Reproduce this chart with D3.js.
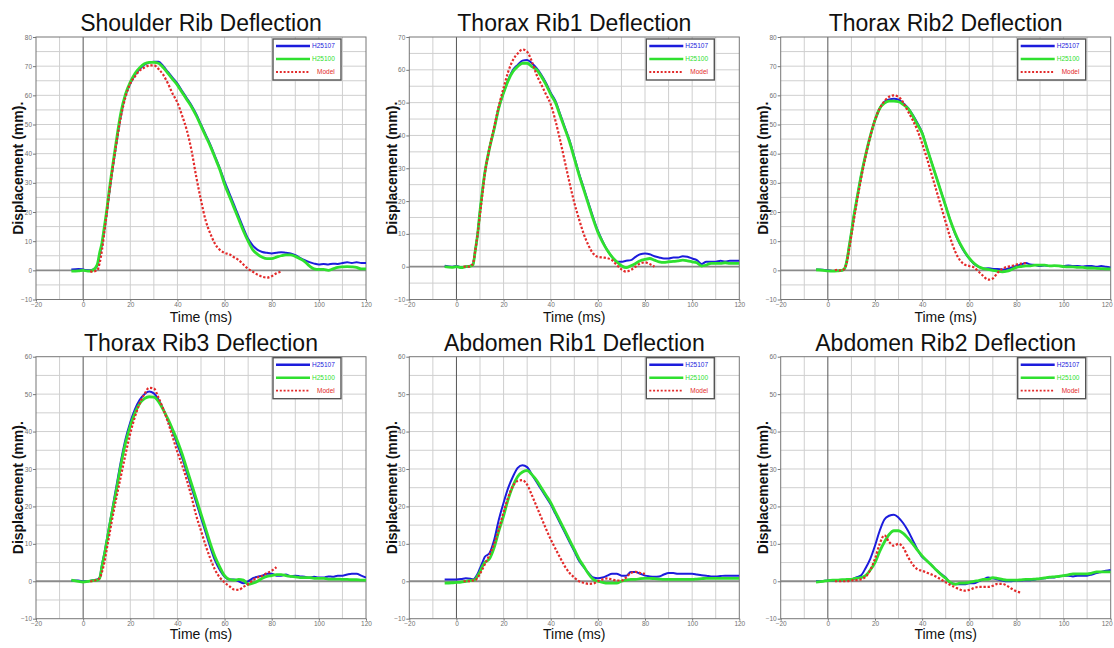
<!DOCTYPE html>
<html>
<head>
<meta charset="utf-8">
<script src="https://cdn.jsdelivr.net/npm/d3@7/dist/d3.min.js"></script>
<style>
  html, body { margin: 0; padding: 0; background: #fff; }
  svg { display: block; font-family: "Liberation Sans", Arial, sans-serif; }
</style>
</head>
<body>
<svg id="chart" width="1114" height="648"></svg>
<script>
// ---------- DATA ----------
const titles = ["Shoulder Rib Deflection", "Thorax Rib1 Deflection", "Thorax Rib2 Deflection",
                "Thorax Rib3 Deflection", "Abdomen Rib1 Deflection", "Abdomen Rib2 Deflection"];
const yMaxes = [80, 70, 80, 60, 60, 60];
const seriesNames = ["H25107", "H25100", "Model"];
const xTicks = [-20, 0, 20, 40, 60, 80, 100, 120];
const xLabel = "Time (ms)";
const yLabel = "Displacement (mm).";

// time (ms) of the test traces
const tExp = [-5, -2, 0, 2, 4, 6, 7, 8, 9, 10, 11,
  12, 14, 16, 18, 20, 22, 24, 26, 28, 30, 32, 34, 36, 38, 40,
  42, 44, 46, 48, 50, 52, 54, 56, 58, 60, 62, 64, 66, 68, 70,
  72, 74, 76, 78, 80, 82, 84, 86, 88, 90, 92, 94, 96, 98, 100,
  102, 104, 106, 108, 110, 112, 114, 116, 118, 120];
// time (ms) of the model traces
const tModel = [3, 4, 5, 6, 7, 8, 9, 10, 11, 12,
  14, 16, 18, 20, 22, 24, 26, 28, 30, 32, 34, 36, 38, 40,
  42, 44, 46, 48, 50, 52, 54, 56, 58, 60, 62, 64, 66, 68, 70,
  72, 74, 76, 78, 80, 82, 84];

// Shoulder Rib
const shoulderH25107 = [0.3, 0.5, 0.3, 0, 0.2, 1.5, 5, 9, 14, 19.5, 26,
  32, 43, 53, 60, 64, 67, 69, 70.5, 71.2, 71.5, 71.5, 70, 68, 66, 64,
  61.5, 59, 56.5, 53.5, 50, 46.5, 43, 39, 35, 30.5, 26.5, 22.5, 18.5, 14.5, 10.8,
  8.5, 7, 6.3, 6, 5.8, 6, 6.2, 6, 5.8, 5.2, 4.3, 3.5, 2.8, 2.3, 2,
  2.2, 2, 2.3, 2.2, 2.5, 2.8, 2.5, 2.8, 2.5, 2.5];
const shoulderH25100 = [-0.3, -0.2, 0, -0.3, 0, 2, 6, 9.5, 15, 20.5, 27,
  33, 44, 54, 60.5, 64.5, 67.5, 69.5, 70.8, 71.3, 71.3, 71, 69.5, 67.5, 65.5, 63.5,
  61, 58.5, 56, 53, 49.5, 46, 42.5, 38.5, 34.5, 29.5, 25.5, 21.5, 17.5, 13.5, 10,
  7, 5.5, 4.5, 4, 4, 4.5, 5, 5.3, 5.3, 4.8, 4, 3, 1.5, 0.5, 0.3,
  0.3, 0, 0.5, 1, 1.2, 1.3, 1.2, 1, 0.5, 0.5];
const shoulderModel = [-0.3, -0.5, -0.3, 0, 2.5, 7, 13, 19.5, 26, 32,
  43, 52.5, 59.5, 64, 66.5, 68.5, 69.5, 70.2, 70.3, 69, 67, 64, 60.5, 57.5,
  53, 48, 41, 32, 24, 17, 12.5, 9, 7, 6, 5.5, 4.5, 3.5, 2, 0.5,
  -0.5, -1.5, -2.2, -2.5, -2, -1, -0.4];

// Thorax Rib1
const thoraxRib1H25107 = [0.3, 0, 0.2, -0.2, 0, 0.3, 0.7, 5, 10, 17, 23,
  28.5, 36, 42, 48.5, 53, 57, 60, 61.5, 62.8, 63, 62, 60.5, 58.5, 56, 53,
  50.5, 46.5, 42.5, 38.5, 33.5, 28.5, 24, 19.5, 15, 11, 7.8, 5, 3, 1.5, 1.5,
  1.8, 2, 3, 3.8, 4, 3.8, 3.2, 2.8, 2.5, 2.5, 2.8, 2.8, 3.2, 3, 2.5,
  2, 0.8, 1.5, 1.5, 1.5, 1.8, 1.6, 1.8, 1.8, 1.8];
const thoraxRib1H25100 = [0, -0.2, 0, -0.3, 0, 0.2, 0.5, 5, 10, 17, 23,
  28.5, 36, 42, 48.5, 53, 56.8, 59.5, 61, 62, 62, 61, 60, 58, 55.5, 52.5,
  50, 46, 42, 38, 33, 28, 23.5, 19, 14.5, 10.5, 7.5, 5, 3, 1.5, 0.3,
  -0.3, 0.3, 1, 1.8, 2.2, 2.5, 2, 1.5, 1.3, 1.5, 1.6, 1.8, 2, 1.8, 1.5,
  1.2, 0.2, 0.5, 1, 1, 1, 1.2, 1, 1, 1];
const thoraxRib1Model = [0, 0, 0, 0.2, 1, 5, 10, 16, 22, 28,
  36, 42.5, 49, 54.5, 59.5, 63, 65, 66.2, 65.5, 62.5, 58.5, 55.5, 52.5, 49.5,
  44.5, 38.5, 32, 25.5, 19.5, 14.5, 10, 6.5, 4, 3, 2.8, 2.6, 2, 0.5, -0.8,
  -1.5, -1, 0, 1, 1.3, 0.8, 0];

// Thorax Rib2
const thoraxRib2H25107 = [0.3, 0.2, 0, -0.2, -0.2, 0, 0.5, 3, 8, 13, 18.5,
  23, 32, 39.5, 46, 51.5, 55.5, 57.8, 58.6, 58.8, 58.5, 57.3, 55.7, 53.3, 50.5, 47.3,
  42, 37, 32, 27, 22, 17, 12.5, 9, 6.2, 4, 2.2, 1.2, 0.6, 0.7, 0.5,
  0.5, 0.3, 0.5, 1, 1.5, 2, 2.5, 2, 1.8, 1.5, 1.7, 1.5, 1.5, 1.5, 1.5,
  1.7, 1.5, 1.5, 1.3, 1.5, 1.5, 1.2, 1.5, 1.2, 1];
const thoraxRib2H25100 = [0.2, 0, -0.2, -0.3, -0.2, 0, 0.5, 3, 8, 13, 18.5,
  23, 32, 39.5, 46, 51.5, 55.5, 57.3, 58, 58, 57.8, 56.8, 55.5, 53, 50, 47,
  42, 37, 32, 27, 22, 17, 12.8, 9.3, 6.5, 4.2, 2.4, 1.2, 0.6, 0.3, 0,
  -0.3, -0.5, -0.3, 0.3, 1, 1.3, 1.5, 1.5, 1.8, 1.8, 1.8, 1.5, 1.6, 1.5, 1.3,
  1.2, 1.2, 1, 1, 0.8, 0.8, 0.7, 0.6, 0.5, 0.5];
const thoraxRib2Model = [0, 0.2, 0, 0, 0.5, 2.5, 7, 12, 17, 22,
  31, 39, 46, 51.5, 55.5, 58, 59.5, 60, 59.5, 57.5, 54.5, 51.5, 48, 43.5,
  38.5, 33, 27.5, 22, 16.5, 11, 6.5, 3.5, 2, 1.5, 1, -0.5, -2, -3.2, -2.8,
  -0.8, 0.5, 1.2, 1.5, 2, 2.3, 2.5];

// Thorax Rib3
const thoraxRib3H25107 = [0.2, 0.2, 0, 0, 0.3, 0.5, 1, 4.5, 7.5, 11, 14.5,
  18, 25, 32, 38, 42.5, 46, 48.5, 50, 50.7, 50.2, 48.5, 46, 43, 40, 36.5,
  33, 29, 25, 21, 17, 13, 9, 5.5, 3, 1.2, 0.5, 0.5, 0, -0.5, 0,
  0.8, 1.2, 1.5, 2, 2, 1.5, 1.5, 1.8, 1.3, 1.5, 1.3, 1.2, 1, 1.2, 1,
  1, 1.3, 1.2, 1.5, 1.5, 1.8, 2, 2, 1.5, 1];
const thoraxRib3H25100 = [0.3, 0, -0.2, 0, 0.2, 0.3, 0.8, 4, 7, 10.5, 14,
  17.5, 24, 31, 37, 41.5, 45, 47.5, 48.8, 49.3, 49.2, 48, 45.8, 43.3, 40.5, 37.5,
  34, 30, 26, 22, 18, 14, 10, 6.5, 3.8, 1.5, 0.5, 0.3, 0.5, 0.3, -0.8,
  -0.5, 0, 0.8, 1.3, 1.5, 1.8, 1.8, 1.5, 1.3, 1.2, 1, 1, 1, 0.8, 0.8,
  0.8, 0.6, 0.6, 0.6, 0.5, 0.5, 0.4, 0.4, 0.3, 0.3];
const thoraxRib3Model = [0, 0, 0.2, 0.5, 0.8, 2.5, 5, 8.5, 12, 15.5,
  22, 28, 34, 39.5, 44, 47.5, 50, 51.7, 51.5, 49, 46, 42.5, 38.5, 34.5,
  31, 27, 22.5, 17.5, 13.5, 9.5, 6, 3, 1, -0.3, -1.3, -2.2, -2.3, -1.5, -0.8,
  0.3, 1, 1.5, 2.2, 2.8, 3.8, null];

// Abdomen Rib1
const abdomenRib1H25107 = [0.5, 0.5, 0.5, 0.6, 0.8, 0.7, 0.5, 1, 2, 3.5, 5,
  6.5, 7.5, 11, 16.5, 21, 25, 28, 30.3, 31, 30.5, 28.5, 26.5, 24.5, 22.5, 20.5,
  18, 15.5, 13, 10.5, 8, 5.5, 3.8, 2.2, 1, 0.8, 1, 1.5, 2, 2, 1.5,
  1.5, 2.5, 2.5, 2, 1.5, 1.3, 1.2, 1.3, 1.8, 2.2, 2.2, 2, 2, 2, 2,
  1.8, 1.6, 1.5, 1.3, 1.3, 1.4, 1.5, 1.5, 1.5, 1.5];
const abdomenRib1H25100 = [-0.5, -0.4, -0.3, -0.2, 0, 0.2, 0.3, 0.5, 1.5, 2.5, 4,
  5, 6, 9, 13.5, 17.5, 22, 25.5, 28, 29.2, 29.6, 28.5, 27, 25, 23, 21,
  18.5, 16, 13.5, 11, 8.5, 6, 4, 2, 0.5, 0, -0.3, -0.5, -0.5, -0.5, 0,
  0.3, 0.5, 0.5, 0.7, 0.8, 0.8, 0.7, 0.6, 0.5, 0.5, 0.5, 0.5, 0.5, 0.5, 0.5,
  0.6, 0.7, 0.8, 0.8, 0.8, 0.8, 0.8, 0.8, 0.8, 0.8];
const abdomenRib1Model = [0, 0, 0, 0.1, 0.2, 0.3, 1, 2, 3.2, 4.5,
  7, 10, 14, 18.5, 22.5, 25.5, 26.8, 27, 25.8, 23, 20, 17, 14, 11.2,
  8.7, 6.3, 4, 2.2, 1, 0, -0.4, -0.7, -0.6, 0, 0.5, 0.8, 0.5, 0.2, 0.2,
  1, 2.2, 2.5, 2.2, 2, null, null];

// Abdomen Rib2
const abdomenRib2H25107 = [0, 0.1, 0.2, 0.2, 0.3, 0.3, 0.3, 0.4, 0.4, 0.5, 0.7,
  1, 1.5, 3.5, 6, 9.5, 13.5, 16.5, 17.5, 17.8, 17, 15.5, 13.5, 11, 8.5, 6.5,
  5.5, 4.3, 3, 2, 1, -0.5, -0.7, -0.8, -0.8, -0.5, -0.5, 0, 0.5, 1, 0.8,
  0.5, 0.2, 0, 0, 0.2, 0.2, 0.3, 0.3, 0.5, 0.7, 0.8, 1, 1, 1.3, 1.5,
  1.5, 1.3, 1.5, 1.5, 1.5, 1.8, 2.2, 2.5, 2.8, 3];
const abdomenRib2H25100 = [-0.2, 0, 0.2, 0.3, 0.3, 0.4, 0.4, 0.5, 0.5, 0.5, 0.7,
  0.8, 1, 1.5, 3, 5, 8, 10.5, 12.5, 13.5, 13.5, 12.8, 11.5, 10, 8.3, 6.8,
  5.5, 4.3, 3, 1.8, 0.8, -0.3, -0.8, -0.5, -0.5, -0.3, 0, 0.2, 0.5, 0.5, 1,
  0.8, 0.5, 0.3, 0.3, 0.3, 0.4, 0.5, 0.5, 0.6, 0.7, 0.9, 1.1, 1.2, 1.3, 1.5,
  1.7, 2, 2, 2, 2, 2.2, 2.5, 2.5, 2.5, 2.5];
const abdomenRib2Model = [0, 0, 0, 0, 0, 0, 0.1, 0.2, 0.3, 0.3,
  0.5, 1.2, 3, 6, 10, 12.3, 10.5, 9.5, 10, 9, 6.5, 4.5, 3.2, 2.8,
  2.3, 1.8, 1.2, 0.5, -0.3, -1, -1.6, -2.2, -2.5, -2.3, -1.8, -1.5, -1.5, -1.5, -1.2,
  -0.7, -0.7, -1.2, -2, -2.7, -3, null];

const panelSeries = [
  [shoulderH25107, shoulderH25100, shoulderModel],
  [thoraxRib1H25107, thoraxRib1H25100, thoraxRib1Model],
  [thoraxRib2H25107, thoraxRib2H25100, thoraxRib2Model],
  [thoraxRib3H25107, thoraxRib3H25100, thoraxRib3Model],
  [abdomenRib1H25107, abdomenRib1H25100, abdomenRib1Model],
  [abdomenRib2H25107, abdomenRib2H25100, abdomenRib2Model]
];

// ---------- LAYOUT / STYLE ----------
const colLefts = [36, 409.3, 780.7];
const rowTops = [37, 356.7];
const rowHeights = [262.5, 262];
const plotW = 330;
const xLabelBase = [322, 638.5];
const colors = ["#1c1cdc", "#2fe02f", "#e32a2a"];
const widths = [2, 2.8, 2.2];
const dashes = [null, null, "2.3,1.8"];

const svg = d3.select("#chart");

panelSeries.forEach((series, i) => {
  const col = i % 3, row = Math.floor(i / 3);
  const left = colLefts[col], top = rowTops[row], plotH = rowHeights[row];
  const yMax = yMaxes[i];

  const x = d3.scaleLinear().domain([-20, 120]).range([left, left + plotW]);
  const y = d3.scaleLinear().domain([-10, yMax]).range([top + plotH, top]);

  const g = svg.append("g");

  // grid
  g.append("g").selectAll("line").data(d3.range(-10, 120, 10).filter(v => v !== 0))
    .join("line")
    .attr("x1", d => x(d)).attr("x2", d => x(d))
    .attr("y1", top).attr("y2", top + plotH)
    .attr("stroke", "#cfcfcf").attr("stroke-width", 1);
  g.append("g").selectAll("line").data(d3.range(-5, yMax, 5).filter(v => v !== 0))
    .join("line")
    .attr("x1", left).attr("x2", left + plotW)
    .attr("y1", d => y(d)).attr("y2", d => y(d))
    .attr("stroke", "#cfcfcf").attr("stroke-width", 1);

  // zero lines
  g.append("line")
    .attr("x1", x(0)).attr("x2", x(0)).attr("y1", top).attr("y2", top + plotH)
    .attr("stroke", "#555").attr("stroke-width", 1);
  g.append("line")
    .attr("x1", left).attr("x2", left + plotW).attr("y1", y(0)).attr("y2", y(0))
    .attr("stroke", "#8a8a8a").attr("stroke-width", 1.8);

  // border
  g.append("rect")
    .attr("x", left).attr("y", top).attr("width", plotW).attr("height", plotH)
    .attr("fill", "none").attr("stroke", "#777").attr("stroke-width", 1);

  // axes
  const yAxis = d3.axisLeft(y).tickValues(d3.range(-10, yMax + 1, 10))
    .tickSize(3).tickPadding(1).tickFormat(d3.format("d"));
  const yg = g.append("g").attr("transform", `translate(${left},0)`).call(yAxis);
  const xAxis = d3.axisBottom(x).tickValues(xTicks)
    .tickSize(2).tickPadding(0.5).tickFormat(d3.format("d"));
  const xg = g.append("g").attr("transform", `translate(0,${top + plotH})`).call(xAxis);
  [yg, xg].forEach(a => {
    a.select(".domain").remove();
    a.selectAll(".tick line").attr("stroke", "#777");
    a.selectAll(".tick text").attr("fill", "#707070").style("font-size", "6.5px")
      .style("font-family", '"Liberation Sans", Arial, sans-serif');
  });
  // keep the last x label inside the page on the right-hand column
  if (col === 2) {
    xg.selectAll(".tick text").filter(d => d === 120).attr("text-anchor", "end").attr("dx", "0.2em");
  }

  // clip
  const clipId = "clip" + i;
  svg.append("clipPath").attr("id", clipId).append("rect")
    .attr("x", left).attr("y", top).attr("width", plotW).attr("height", plotH);

  const line = d3.line()
    .defined(d => d[1] !== null && d[1] !== undefined)
    .x(d => x(d[0])).y(d => y(d[1]))
    .curve(d3.curveMonotoneX);

  const dg = g.append("g").attr("clip-path", `url(#${clipId})`);
  series.forEach((vals, k) => {
    const times = k === 2 ? tModel : tExp;
    const pts = vals.map((v, j) => [times[j], v]);
    const p = dg.append("path").datum(pts)
      .attr("d", line)
      .attr("fill", "none")
      .attr("stroke", colors[k])
      .attr("stroke-width", widths[k])
      .attr("stroke-linejoin", "round");
    if (dashes[k]) p.attr("stroke-dasharray", dashes[k]);
  });

  // legend
  const lx = left + 237, ly = top + (row === 0 ? 2 : 1);
  const lg = g.append("g");
  lg.append("rect").attr("x", lx).attr("y", ly).attr("width", 68).attr("height", 41)
    .attr("fill", "#fff").attr("stroke", "#555").attr("stroke-width", 1.4);
  seriesNames.forEach((name, k) => {
    const yy = ly + 7 + k * 13;
    const ln = lg.append("line").attr("x1", lx + 3).attr("x2", lx + 37)
      .attr("y1", yy).attr("y2", yy)
      .attr("stroke", colors[k]).attr("stroke-width", k === 2 ? 1.8 : 2.6);
    if (dashes[k]) ln.attr("stroke-dasharray", "2,1.8");
    lg.append("text").attr("x", lx + (k === 2 ? 44 : 39)).attr("y", yy + 2.2)
      .attr("fill", colors[k]).style("font-size", "6.5px").text(name);
  });

  // title
  g.append("text").attr("x", left + plotW / 2).attr("y", top - 6)
    .attr("text-anchor", "middle").attr("fill", "#111")
    .style("font-size", "23px").text(titles[i]);

  // axis labels
  g.append("text").attr("x", left + plotW / 2).attr("y", xLabelBase[row])
    .attr("text-anchor", "middle").attr("fill", "#111")
    .style("font-size", "14px").text(xLabel);
  g.append("text")
    .attr("transform", `translate(${left - 12.7},${top + plotH / 2}) rotate(-90)`)
    .attr("text-anchor", "middle").attr("fill", "#111")
    .style("font-size", "14px").style("font-weight", "bold").text(yLabel);
});
</script>
</body>
</html>
